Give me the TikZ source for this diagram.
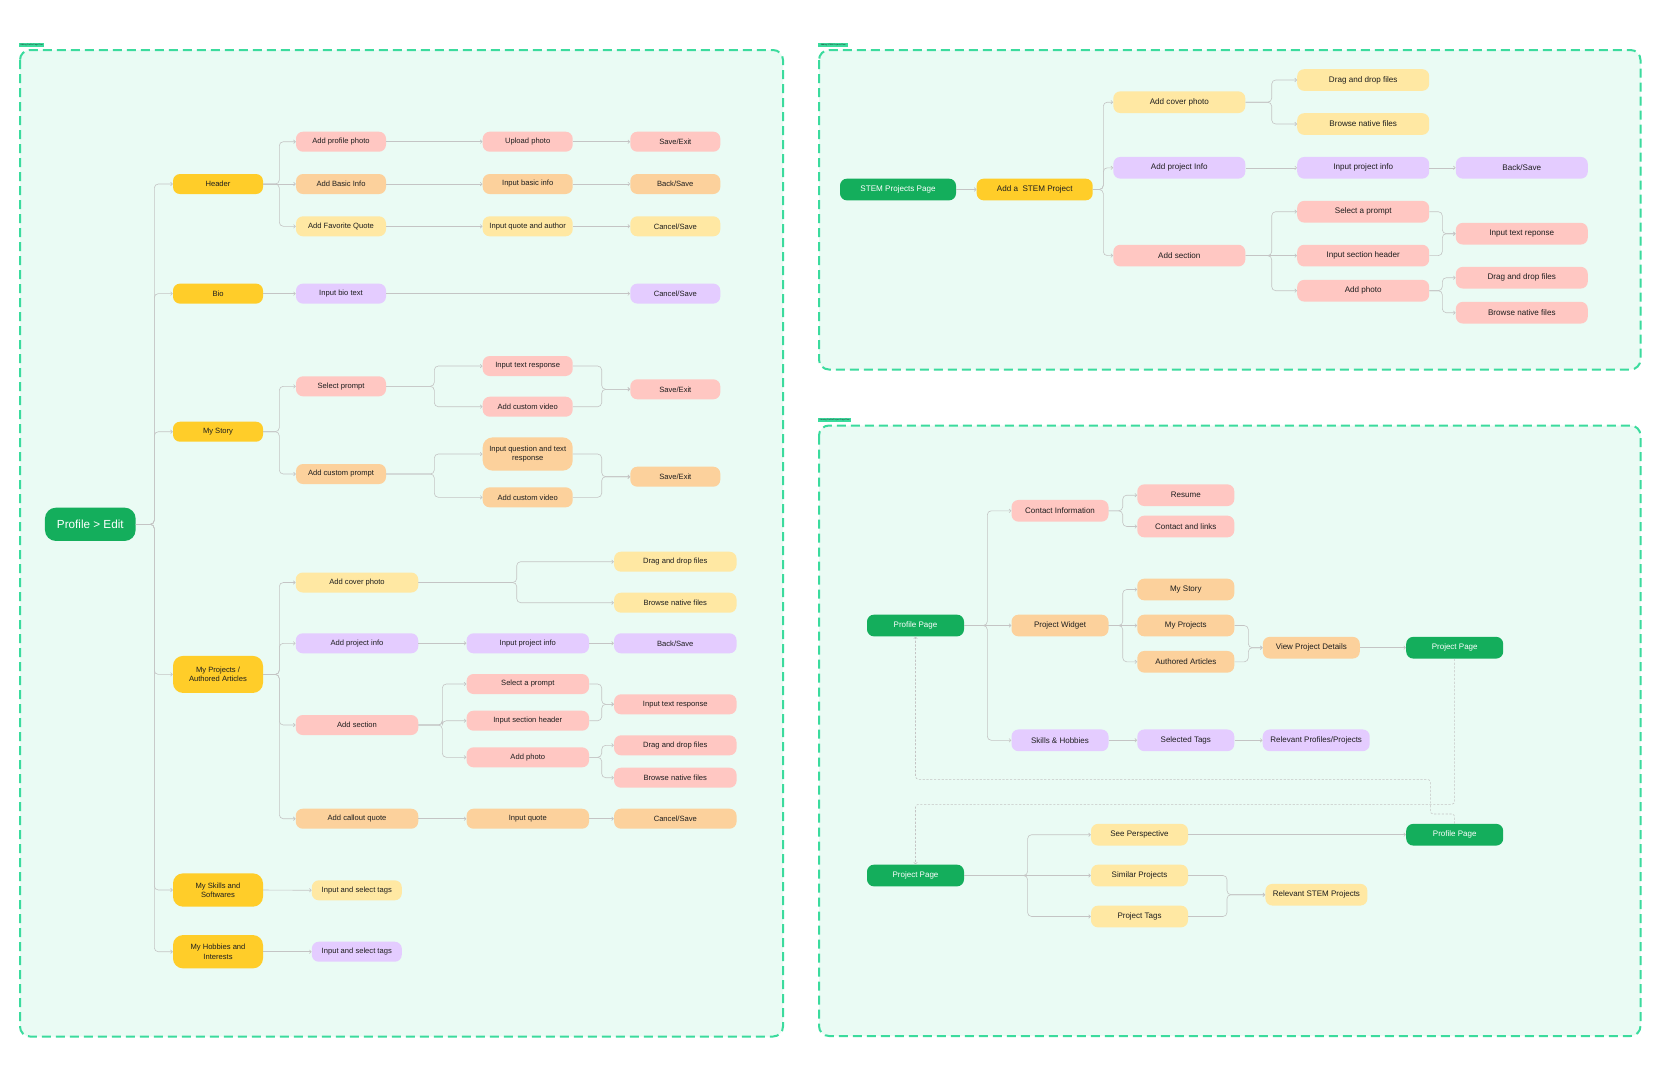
\documentclass[tikz,border=0pt]{standalone}
\usepackage{fontspec}
\setmainfont{Liberation Sans}
\usetikzlibrary{arrows.meta}

\definecolor{gnode}{HTML}{14AE5C}
\definecolor{dyel}{HTML}{FFCD29}
\definecolor{pnk}{HTML}{FFC7C2}
\definecolor{org}{HTML}{FCD19C}
\definecolor{lyel}{HTML}{FFE8A3}
\definecolor{pur}{HTML}{E4CCFF}
\definecolor{framebg}{HTML}{EAFBF4}
\definecolor{frameln}{HTML}{3BDB9D}
\definecolor{lnk}{HTML}{C4C4C4}
\definecolor{txt}{HTML}{1E1E1E}

\newcommand\brconn[3]{\draw[conn] (#1.east) -- (#1.east -| #2) |- (#3.west);}
\newcommand\stconn[2]{\draw[conn] (#1.east) -- (#2.west);}

\tikzset{
  x=1pt, y=-1pt,
  box/.style={rounded corners=7pt, minimum height=20pt, inner sep=1pt, text=txt, align=center, font=\fontsize{7.6}{9.2}\selectfont},
  fa/.style={box, minimum width=90pt},
  fb/.style={box, minimum width=122.5pt},
  fc/.style={box, minimum width=132pt, minimum height=21.7pt, font=\fontsize{8.1}{9.5}\selectfont},
  fd/.style={box, minimum width=116pt, minimum height=21.7pt, font=\fontsize{8.1}{9.5}\selectfont},
  fe/.style={box, minimum width=97pt, minimum height=21.7pt, font=\fontsize{8}{9.5}\selectfont},
  twoline/.style={minimum height=33.3pt, rounded corners=10pt},
  cg/.style={fill=gnode, text=white},
  cdy/.style={fill=dyel},
  cp/.style={fill=pnk},
  co/.style={fill=org},
  cly/.style={fill=lyel},
  cpu/.style={fill=pur},
  conn/.style={draw=lnk, line width=0.6pt, rounded corners=4pt, -{Straight Barb[length=1.8pt,width=3.6pt]}},
  dashlink/.style={draw=lnk, line width=0.55pt, dash pattern=on 2.2pt off 1.6pt, rounded corners=3pt},
  frame/.style={draw=frameln, fill=framebg, line width=2pt, dash pattern=on 9pt off 5pt, rounded corners=10pt},
  tag/.style={fill=frameln, inner sep=0pt, minimum height=4.2pt, text=txt, font=\fontsize{2}{2}\selectfont, anchor=south west},
}

\begin{document}
\begin{tikzpicture}
\useasboundingbox[fill=white] (0,0) rectangle (1670,1080);

% ---------- frames ----------
\draw[frame] (20,50) rectangle (783,1036.5);
\draw[frame] (819,50) rectangle (1640.5,369.5);
\draw[frame] (819,425.5) rectangle (1640.5,1036);
\node[tag, minimum width=25pt] (tg1) at (19,47.4) {Editing Profile Page Flow};
\node[tag, minimum width=30pt] (tg2) at (818,47.2) {Adding STEM Projects Flow};
\node[tag, minimum width=33pt] (tg3) at (818,422.4) {Viewing Profile/Project Page Flow};

% ---------- branch columns ----------
\coordinate (t0) at (154.3,0);
\coordinate (t1) at (279.3,0);
\coordinate (t2) at (434.3,0);
\coordinate (t3) at (601.7,0);
\coordinate (t4) at (516.7,0);
\coordinate (t5) at (442.3,0);
\coordinate (u1) at (1103.3,0);
\coordinate (u2) at (1271.7,0);
\coordinate (u3) at (1442.3,0);
\coordinate (v1) at (987.3,0);
\coordinate (v2) at (1122.7,0);
\coordinate (v3) at (1248.3,0);
\coordinate (v4) at (1027.6,0);
\coordinate (v5) at (1227,0);

% ---------- profile edit flow ----------
\node[box, cg, minimum width=90.7pt, minimum height=33.3pt, rounded corners=11pt, font=\fontsize{11.7}{13}\selectfont] (pe) at (90.3,524.3) {Profile > Edit};

\node[fa, cdy] (hdr) at (218,184) {Header};
\node[fa, cdy] (bio) at (218,293.6) {Bio};
\node[fa, cdy] (story) at (218,431.7) {My Story};
\node[fa, cdy, twoline, minimum height=37pt] (proj) at (218,674.4) {My Projects /\\Authored Articles};
\node[fa, cdy, twoline] (skills) at (218,890) {My Skills and\\Softwares};
\node[fa, cdy, twoline] (hobb) at (218,951.7) {My Hobbies and\\Interests};

\node[fa, cp] (app) at (341,141.7) {Add profile photo};
\node[fa, cp] (up) at (527.7,141.7) {Upload photo};
\node[fa, cp] (se1) at (675.3,141.7) {Save/Exit};
\node[fa, co] (abi) at (341,184) {Add Basic Info};
\node[fa, co] (ibi) at (527.7,184) {Input basic info};
\node[fa, co] (bs1) at (675.3,184) {Back/Save};
\node[fa, cly] (afq) at (341,226.3) {Add Favorite Quote};
\node[fa, cly] (iqa) at (527.7,226.3) {Input quote and author};
\node[fa, cly] (cs1) at (675.3,226.3) {Cancel/Save};

\node[fa, cpu] (ibt) at (341,293.6) {Input bio text};
\node[fa, cpu] (cs2) at (675.3,293.6) {Cancel/Save};

\node[fa, cp] (sp) at (341,386.3) {Select prompt};
\node[fa, cp] (itr) at (527.7,366) {Input text response};
\node[fa, cp] (acv) at (527.7,406.7) {Add custom video};
\node[fa, cp] (se2) at (675.3,389.3) {Save/Exit};
\node[fa, co] (acp) at (341,474) {Add custom prompt};
\node[fa, co, twoline] (iqt) at (527.7,454) {Input question and text\\response};
\node[fa, co] (acv2) at (527.7,497.3) {Add custom video};
\node[fa, co] (se3) at (675.3,476.7) {Save/Exit};

\node[fb, cly] (acov) at (357,582.5) {Add cover photo};
\node[fb, cly] (dd1) at (675.3,561.7) {Drag and drop files};
\node[fb, cly] (bn1) at (675.3,602.7) {Browse native files};
\node[fb, cpu] (api) at (357,643.3) {Add project info};
\node[fb, cpu] (ipi) at (527.8,643.3) {Input project info};
\node[fb, cpu] (bs2) at (675.3,643.3) {Back/Save};
\node[fb, cp] (asec) at (357,725) {Add section};
\node[fb, cp] (sap) at (527.8,684) {Select a prompt};
\node[fb, cp] (ish) at (527.8,720.7) {Input section header};
\node[fb, cp] (aph) at (527.8,757.3) {Add photo};
\node[fb, cp] (itr2) at (675.3,704.3) {Input text response};
\node[fb, cp] (dd2) at (675.3,745.3) {Drag and drop files};
\node[fb, cp] (bn2) at (675.3,777.7) {Browse native files};
\node[fb, co] (acq) at (357,818.7) {Add callout quote};
\node[fb, co] (iq) at (527.8,818.7) {Input quote};
\node[fb, co] (cs3) at (675.3,818.7) {Cancel/Save};

\node[fa, cly] (ist1) at (356.8,890.3) {Input and select tags};
\node[fa, cpu] (ist2) at (356.8,951.7) {Input and select tags};

\foreach \c in {hdr,bio,story,proj,skills,hobb} {\brconn{pe}{t0}{\c}}
\brconn{hdr}{t1}{app}
\stconn{hdr}{abi}
\brconn{hdr}{t1}{afq}
\stconn{app}{up} \stconn{up}{se1}
\stconn{abi}{ibi} \stconn{ibi}{bs1}
\stconn{afq}{iqa} \stconn{iqa}{cs1}
\stconn{bio}{ibt} \stconn{ibt}{cs2}
\brconn{story}{t1}{sp}
\brconn{story}{t1}{acp}
\brconn{sp}{t2}{itr} \brconn{sp}{t2}{acv}
\brconn{itr}{t3}{se2} \brconn{acv}{t3}{se2}
\brconn{acp}{t2}{iqt} \brconn{acp}{t2}{acv2}
\brconn{iqt}{t3}{se3} \brconn{acv2}{t3}{se3}
\foreach \c in {acov,api,asec,acq} {\brconn{proj}{t1}{\c}}
\brconn{acov}{t4}{dd1} \brconn{acov}{t4}{bn1}
\stconn{api}{ipi} \stconn{ipi}{bs2}
\brconn{asec}{t5}{sap} \brconn{asec}{t5}{ish} \brconn{asec}{t5}{aph}
\brconn{sap}{t3}{itr2} \brconn{ish}{t3}{itr2}
\brconn{aph}{t3}{dd2} \brconn{aph}{t3}{bn2}
\stconn{acq}{iq} \stconn{iq}{cs3}
\stconn{skills}{ist1}
\stconn{hobb}{ist2}

% ---------- adding STEM projects flow ----------
\node[fd, cg] (spg) at (898,189.5) {STEM Projects Page};
\node[fd, cdy] (asp) at (1034.7,189.5) {Add a\ \ STEM Project};
\node[fc, cly] (tcov) at (1179.3,102.2) {Add cover photo};
\node[fc, cpu] (tpi) at (1179.3,167.8) {Add project Info};
\node[fc, cp] (tsec) at (1179.3,255.6) {Add section};
\node[fc, cly] (tdd1) at (1363.2,80) {Drag and drop files};
\node[fc, cly] (tbn1) at (1363.2,124) {Browse native files};
\node[fc, cpu] (tipi) at (1363.2,167.8) {Input project info};
\node[fc, cpu] (tbs) at (1521.8,167.8) {Back/Save};
\node[fc, cp] (tsap) at (1363.2,211.7) {Select a prompt};
\node[fc, cp] (tish) at (1363.2,255.6) {Input section header};
\node[fc, cp] (taph) at (1363.2,290.7) {Add photo};
\node[fc, cp] (titr) at (1521.8,233.7) {Input text reponse};
\node[fc, cp] (tdd2) at (1521.8,277.7) {Drag and drop files};
\node[fc, cp] (tbn2) at (1521.8,312.7) {Browse native files};

\stconn{spg}{asp}
\brconn{asp}{u1}{tcov} \brconn{asp}{u1}{tpi} \brconn{asp}{u1}{tsec}
\brconn{tcov}{u2}{tdd1} \brconn{tcov}{u2}{tbn1}
\stconn{tpi}{tipi} \stconn{tipi}{tbs}
\brconn{tsec}{u2}{tsap} \stconn{tsec}{tish} \brconn{tsec}{u2}{taph}
\brconn{tsap}{u3}{titr} \brconn{tish}{u3}{titr}
\brconn{taph}{u3}{tdd2} \brconn{taph}{u3}{tbn2}

% ---------- viewing profile / project pages ----------
\node[fe, cg] (pp1) at (915.5,625.5) {Profile Page};
\node[fe, cp] (ci) at (1060,510.8) {Contact Information};
\node[fe, co] (pw) at (1060,625.5) {Project Widget};
\node[fe, cpu] (sh) at (1060,740.3) {Skills \& Hobbies};
\node[fe, cp] (res) at (1185.8,495.2) {Resume};
\node[fe, cp] (cal) at (1185.8,526.5) {Contact and links};
\node[fe, co] (ms) at (1185.8,589.5) {My Story};
\node[fe, co] (mp) at (1185.8,625.5) {My Projects};
\node[fe, co] (aa) at (1185.8,661.8) {Authored Articles};
\node[fe, cpu] (st) at (1185.8,740.3) {Selected Tags};
\node[fe, co] (vpd) at (1311.3,647.7) {View Project Details};
\node[fe, cg] (prj1) at (1454.7,647.7) {Project Page};
\node[fe, cpu, minimum width=107pt] (rpp) at (1316.2,740.3) {Relevant Profiles/Projects};

\node[fe, cg] (prj2) at (915.5,875.5) {Project Page};
\node[fe, cly] (see) at (1139.5,834.7) {See Perspective};
\node[fe, cly] (sim) at (1139.5,875.5) {Similar Projects};
\node[fe, cly] (ptag) at (1139.5,916.5) {Project Tags};
\node[fe, cg] (pp2) at (1454.7,834.7) {Profile Page};
\node[fe, cly, minimum width=102pt] (rsp) at (1316.4,894.7) {Relevant STEM Projects};

\brconn{pp1}{v1}{ci} \stconn{pp1}{pw} \brconn{pp1}{v1}{sh}
\brconn{ci}{v2}{res} \brconn{ci}{v2}{cal}
\brconn{pw}{v2}{ms} \stconn{pw}{mp} \brconn{pw}{v2}{aa}
\brconn{mp}{v3}{vpd} \brconn{aa}{v3}{vpd}
\stconn{vpd}{prj1}
\stconn{sh}{st} \stconn{st}{rpp}
\brconn{prj2}{v4}{see} \stconn{prj2}{sim} \brconn{prj2}{v4}{ptag}
\stconn{see}{pp2}
\brconn{sim}{v5}{rsp} \brconn{ptag}{v5}{rsp}

% dashed page-to-page links
\coordinate (k1) at (1430.3,814);
\coordinate (k2) at (1430.3,779.3);
\coordinate (k3) at (1454.7,804.3);
\draw[dashlink, -{Straight Barb[length=1.8pt,width=3.6pt]}] (pp2.north) |- (k1) -- (k2) -| (pp1.south);
\draw[dashlink, -{Straight Barb[length=1.8pt,width=3.6pt]}] (prj1.south) -- (k3) -| (prj2.north);

\end{tikzpicture}
\end{document}
